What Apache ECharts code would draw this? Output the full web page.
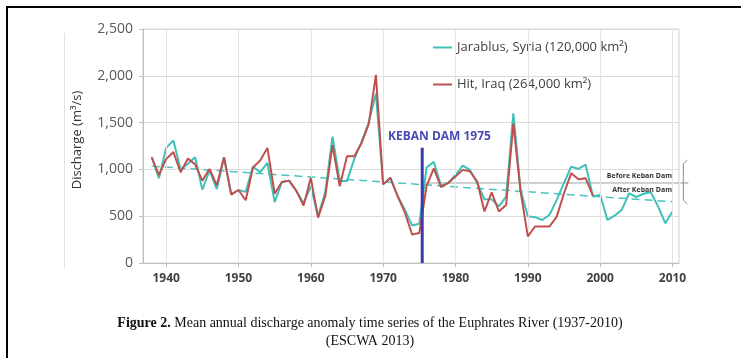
<!DOCTYPE html>
<html>
<head>
<meta charset="utf-8">
<script src="https://cdn.jsdelivr.net/npm/echarts@6/dist/echarts.min.js"></script>
<style>
  html, body { margin: 0; padding: 0; background: #fff; }
  #chart { width: 741px; height: 358px; }
</style>
</head>
<body>
<div id="chart"></div>
<script>
// annual mean discharge (m3/s)
const startYear = 1938;
const jarablus = [
  1130, 905, 1230, 1310, 1000, 1060, 1130, 785, 990, 790,     // 1938-1947
  1130, 735, 780, 760, 1030, 970, 1070, 650, 865, 880,        // 1948-1957
  770, 640, 820, 500, 760, 1350, 875, 875, 1110, 1290,        // 1958-1967
  1500, 1810, 840, 910, 715, 570, 400, 420, 1020, 1080,       // 1968-1977
  825, 855, 940, 1040, 995, 855, 680, 680, 605, 710,          // 1978-1987
  1600, 780, 500, 490, 460, 515, 675, 855, 1030, 1005,        // 1988-1997
  1050, 710, 730, 460, 505, 570, 745, 705, 740, 755,          // 1998-2007
  605, 425, 550                                               // 2008-2010
];
const hit = [
  1130, 940, 1110, 1185, 970, 1115, 1055, 880, 1005, 830,
  1130, 730, 780, 670, 1020, 1095, 1230, 740, 865, 880,
  770, 615, 910, 485, 715, 1260, 820, 1140, 1140, 1280,
  1480, 2010, 840, 910, 715, 540, 305, 320, 820, 1010,
  810, 855, 925, 995, 980, 870, 550, 755, 550, 620,
  1490, 765, 285, 390, 390, 390, 495, 745, 960, 895,
  905, 720                                                    // ends 1999
];
const xTicks = [1940, 1950, 1960, 1970, 1980, 1990, 2000, 2010];
const xMin = 1936.8, xMax = 2010.9;
const trendLine = [[1938, 1035], [2010, 655]];
const damYear = 1975.4, damTop = 1230;
const afterMean = 855, afterStart = 1975.5;
const braceX = 2011.5;
const braceLevels = [1070, 855, 660];

const toPairs = arr => arr.map((v, i) => [startYear + i, v]);
const sans = 'Open Sans';

const chart = echarts.init(document.getElementById('chart'), null, { renderer: 'canvas' });

chart.setOption({
  animation: false,
  grid: { left: 143, right: 62, top: 29, bottom: 95, show: true, borderColor: '#cfcfcf', borderWidth: 1 },
  legend: {
    data: ['Jarablus, Syria (120,000 km²)', 'Hit, Iraq (264,000 km²)'],
    orient: 'vertical', left: 428, top: 36,
    icon: 'rect', itemWidth: 19, itemHeight: 2, itemGap: 24,
    textStyle: { fontFamily: sans, fontSize: 13, color: '#404040' }
  },
  xAxis: {
    type: 'value', min: xMin, max: xMax,
    axisLine: { show: true, lineStyle: { color: '#bfbfbf' } },
    axisTick: { show: true, customValues: xTicks, length: 4, lineStyle: { color: '#bfbfbf' } },
    axisLabel: {
      customValues: xTicks, formatter: v => String(Math.round(v)), margin: 10,
      fontFamily: sans, fontSize: 12, fontWeight: 'bold', color: '#404040'
    },
    splitLine: { show: false }
  },
  yAxis: {
    type: 'value', min: 0, max: 2500, interval: 500,
    axisLine: { show: true, lineStyle: { color: '#bfbfbf' } },
    axisTick: { show: true, length: 4, lineStyle: { color: '#bfbfbf' } },
    axisLabel: { fontFamily: sans, fontSize: 14, color: '#595959', margin: 10 },
    splitLine: { lineStyle: { color: '#dcdcdc' } }
  },
  series: [
    {
      // faint vertical grid at the year ticks
      type: 'line', data: [], silent: true,
      markLine: {
        silent: true, symbol: 'none', label: { show: false },
        lineStyle: { color: '#e4e4e4', width: 1, type: 'solid' },
        data: xTicks.map(x => ({ xAxis: x }))
      }
    },
    {
      type: 'line', data: trendLine, showSymbol: false, silent: true, z: 3,
      lineStyle: { color: '#4cc4be', width: 1.5, type: [8, 5] }
    },
    {
      type: 'line', data: [[afterStart, afterMean], [xMax, afterMean]], showSymbol: false, silent: true, z: 1,
      lineStyle: { color: '#a0a0a0', width: 1 }
    },
    {
      name: 'Jarablus, Syria (120,000 km²)', type: 'line', data: toPairs(jarablus),
      showSymbol: false, color: '#3fc0b9', lineStyle: { width: 2 }, z: 4
    },
    {
      name: 'Hit, Iraq (264,000 km²)', type: 'line', data: toPairs(hit),
      showSymbol: false, color: '#c0504d', lineStyle: { width: 2 }, z: 5
    },
    {
      type: 'line', data: [[damYear, 0], [damYear, damTop]], showSymbol: false, silent: true, z: 6,
      lineStyle: { color: '#3b3bab', width: 3 }
    },
    {
      type: 'custom', silent: true, clip: false, data: [0], z: 6,
      renderItem: function (params, api) {
        const t = api.coord([braceX, braceLevels[0]]);
        const m = api.coord([braceX, braceLevels[1]]);
        const b = api.coord([braceX, braceLevels[2]]);
        const x = t[0];
        const st = { stroke: '#8c8c8c', fill: null, lineWidth: 1 };
        return {
          type: 'group', children: [
            { type: 'polyline', shape: { points: [[x + 4, t[1] - 3], [x, t[1] + 1], [x, b[1] - 1], [x + 4, b[1] + 3]] }, style: st },
            { type: 'line', shape: { x1: x - 3, y1: m[1], x2: x + 5, y2: m[1] }, style: st }
          ]
        };
      }
    }
  ],
  graphic: [
    // figure frame
    { type: 'line', shape: { x1: 6, y1: 7, x2: 741, y2: 7 }, style: { stroke: '#000', lineWidth: 2 } },
    { type: 'line', shape: { x1: 7, y1: 7, x2: 7, y2: 358 }, style: { stroke: '#000', lineWidth: 2 } },
    { type: 'line', shape: { x1: 64.5, y1: 33, x2: 64.5, y2: 268 }, style: { stroke: '#e2e2e2', lineWidth: 1 } },
    {
      type: 'text', x: 77, y: 140, rotation: Math.PI / 2,
      style: { text: 'Discharge (m³/s)', font: '13px "Open Sans"', fill: '#333', align: 'center', verticalAlign: 'middle' }
    },
    {
      type: 'text', x: 388, y: 137, z: 10,
      style: { text: 'KEBAN DAM 1975', font: 'bold 12px "Open Sans"', fill: '#4a4ab2', align: 'left', verticalAlign: 'middle' }
    },
    {
      type: 'text', x: 672, y: 176, z: 10,
      style: { text: 'Before Keban Dam', font: 'bold 7px "Open Sans"', fill: '#333', align: 'right', verticalAlign: 'middle' }
    },
    {
      type: 'text', x: 672, y: 190, z: 10,
      style: { text: 'After Keban Dam', font: 'bold 7px "Open Sans"', fill: '#333', align: 'right', verticalAlign: 'middle' }
    },
    {
      type: 'text', x: 370, y: 323,
      style: {
        text: '{b|Figure 2.} Mean annual discharge anomaly time series of the Euphrates River (1937-2010)',
        rich: {
          b: { fontFamily: 'Liberation Serif', fontSize: 14, fontWeight: 'bold', fill: '#111' }
        },
        fontFamily: 'Liberation Serif', fontSize: 14, fill: '#111', align: 'center', verticalAlign: 'middle'
      }
    },
    {
      type: 'text', x: 370, y: 341,
      style: { text: '(ESCWA 2013)', fontFamily: 'Liberation Serif', fontSize: 14, fill: '#111', align: 'center', verticalAlign: 'middle' }
    }
  ]
});
</script>
</body>
</html>
